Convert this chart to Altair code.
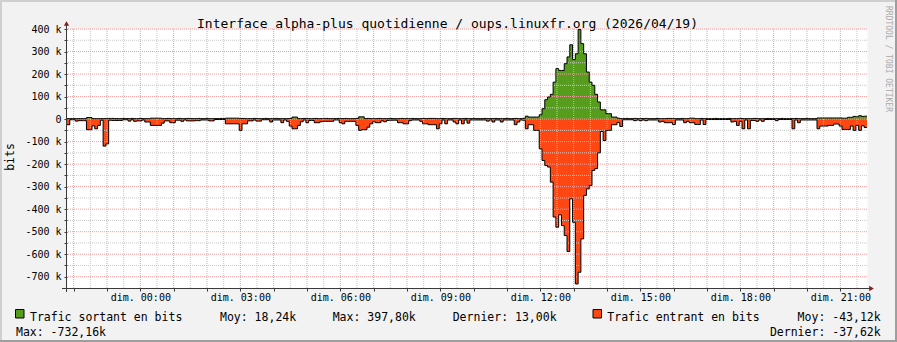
import altair as alt
import pandas as pd

# ------------------------------------------------------------------
# Data: 5-minute samples, kbit/s
# hours are relative to 00:00 on 2026/04/19 (graph starts 21:48 the day before)
# ------------------------------------------------------------------
START_H = -2.2
STEP_H = 5 / 60
END_H = 21.8

out_k = [
    2, 2, 2, 2, 2, 2, 2, 7, 7, 2, 2, 2,
    2, 2, 2, 3, 3, 2, 2, 2, 3, 2, 2, 3,
    2, 2, 3, 2, 2, 2, 4, 4, 4, 4, 2, 2,
    3, 2, 2, 2, 3, 2, 2, 3, 2, 2, 2, 3,
    2, 2, 3, 2, 2, 2, 2, 3, 2, 4, 4, 4,
    4, 4, 2, 3, 2, 2, 2, 3, 2, 2, 2, 3,
    2, 2, 2, 3, 2, 2, 2, 2, 3, 9, 9, 2,
    2, 3, 2, 2, 2, 3, 2, 2, 2, 3, 2, 2,
    2, 3, 2, 2, 3, 2, 2, 2, 3, 10, 10, 2,
    3, 2, 2, 2, 3, 2, 2, 2, 3, 2, 2, 2,
    3, 2, 2, 2, 3, 2, 2, 2, 3, 2, 3, 3,
    3, 2, 2, 3, 2, 2, 2, 3, 2, 2, 2, 3,
    2, 2, 3, 2, 2, 2, 3, 2, 2, 2, 3, 2,
    2, 2, 3, 2, 2, 3, 2, 2, 3, 13, 9, 9,
    9, 9, 19, 46, 86, 98, 110, 164, 224, 216, 216, 246,
    276, 330, 264, 290, 397.8, 335, 290, 209, 164, 150, 110, 76,
    41, 41, 24, 24, 9, 9, 4, 2, 2, 3, 2, 2,
    3, 2, 2, 2, 3, 2, 2, 2, 3, 2, 2, 2,
    3, 3, 2, 2, 2, 3, 2, 2, 4, 4, 2, 2,
    3, 2, 2, 2, 2, 3, 2, 2, 2, 2, 3, 2,
    2, 2, 3, 2, 2, 2, 2, 3, 2, 2, 2, 2,
    3, 2, 2, 2, 2, 3, 2, 2, 2, 2, 3, 2,
    2, 2, 3, 2, 2, 2, 5, 5, 5, 5, 5, 5,
    5, 5, 5, 4, 4, 8, 8, 12, 10, 15, 12, 13,
]

in_k = [
    -25, -3, -3, -9, -7, -7, -7, -47, -47, -30, -43, -28,
    -5, -120, -110, -5, -6, -6, -6, -6, -3, -3, -9, -3,
    -10, -8, -8, -4, -13, -13, -28, -28, -28, -28, -18, -8,
    -8, -16, -16, -5, -5, -10, -4, -8, -8, -8, -7, -7,
    -4, -4, -4, -8, -8, -2, -2, -2, -2, -21, -21, -21,
    -21, -21, -50, -21, -21, -8, -8, -4, -9, -9, -3, -3,
    -3, -13, -4, -4, -4, -16, -4, -10, -31, -43, -43, -28,
    -12, -4, -16, -6, -6, -16, -16, -12, -10, -10, -10, -10,
    -4, -4, -16, -21, -10, -10, -10, -10, -28, -50, -47, -47,
    -36, -21, -12, -16, -16, -8, -12, -6, -5, -5, -5, -16,
    -16, -21, -21, -7, -4, -4, -4, -10, -21, -21, -25, -25,
    -25, -43, -21, -4, -21, -4, -4, -13, -21, -4, -21, -4,
    -18, -4, -4, -4, -4, -4, -4, -9, -4, -13, -4, -4,
    -13, -4, -4, -4, -4, -25, -13, -4, -5, -43, -25, -25,
    -50, -50, -132, -184, -206, -213, -280, -435, -480, -425, -473, -517,
    -588, -354, -458, -732.16, -680, -532, -339, -310, -295, -228, -220, -150,
    -55, -95, -50, -50, -25, -25, -15, -33, -3, -3, -3, -3,
    -7, -4, -7, -4, -7, -4, -4, -4, -4, -13, -10, -16,
    -16, -16, -24, -4, -4, -4, -16, -10, -16, -16, -24, -24,
    -4, -24, -2, -2, -2, -2, -2, -2, -2, -2, -2, -13,
    -10, -28, -10, -43, -4, -43, -6, -6, -10, -4, -10, -2,
    -2, -2, -2, -7, -2, -2, -2, -2, -2, -43, -4, -16,
    -4, -4, -4, -4, -4, -4, -43, -31, -31, -31, -28, -28,
    -22, -22, -31, -46, -46, -46, -31, -50, -28, -50, -30, -37.62,
]

title_text = "Interface alpha-plus quotidienne / oups.linuxfr.org (2026/04/19)"
out_label = "Trafic sortant en bits"
in_label = "Trafic entrant en bits"
out_stats = ["Moy: 18,24k", "Max: 397,80k", "Dernier: 13,00k"]
in_stats = ["Moy: -43,12k", "Max: -732,16k", "Dernier: -37,62k"]
watermark = "RRDTOOL / TOBI OETIKER"
y_title = "bits"

# ------------------------------------------------------------------
n = len(out_k)
hours = [START_H + i * STEP_H for i in range(n)] + [END_H]
df = pd.DataFrame({
    "h": hours,
    "out": [v * 1000 for v in out_k] + [out_k[-1] * 1000],
    "inb": [v * 1000 for v in in_k] + [in_k[-1] * 1000],
})
df["base"] = 0.0

# layout / style
W, H = 800, 259
PAD = {"left": 67, "top": 29, "right": 30, "bottom": 54}
MONO = "DejaVu Sans Mono"
GREEN = "#569c1d"
RED = "#ff4714"
AXIS = "#3a3a3a"
ARROW = "#801f1f"
MINOR = "#c9c9c9"
MAJOR = "#ef9e9e"

xscale = alt.Scale(domain=[START_H, END_H], nice=False, zero=False)
yscale = alt.Scale(domain=[-750000, 400000], nice=False, zero=False)

x_axis = alt.Axis(
    values=list(range(-2, 22)),
    labelExpr="datum.value % 3 == 0 ? 'dim. ' + (datum.value < 10 ? '0' : '') + datum.value + ':00' : ''",
    grid=False, domain=False, tickSize=3, tickColor=AXIS,
    labelFont=MONO, labelFontSize=10, labelColor="#000000",
    labelPadding=1, labelOverlap=False, labelFlush=False, title=None,
)
y_axis = alt.Axis(
    values=list(range(-700000, 400001, 50000)),
    labelExpr="datum.value % 100000 != 0 ? '' : (datum.value == 0 ? '0\u00a0\u00a0' : (datum.value / 1000) + ' k')",
    grid=False, domain=False, tickSize=3, tickColor=AXIS,
    labelFont=MONO, labelFontSize=10, labelColor="#000000",
    labelPadding=3, labelOverlap=False, labelFlush=False, title=None,
)

X = alt.X("h:Q", scale=xscale, axis=x_axis)

base = alt.Chart(df)
green_area = base.mark_area(interpolate="step-after", color=GREEN, opacity=1).encode(
    x=X, y=alt.Y("out:Q", scale=yscale, axis=y_axis), y2="base:Q")
red_area = base.mark_area(interpolate="step-after", color=RED, opacity=1).encode(
    x=X, y=alt.Y("inb:Q", scale=yscale, axis=y_axis), y2="base:Q")
green_line = base.mark_line(interpolate="step-after", color="#000000", strokeWidth=1).encode(
    x=X, y=alt.Y("out:Q", scale=yscale, axis=y_axis))
red_line = base.mark_line(interpolate="step-after", color="#000000", strokeWidth=1).encode(
    x=X, y=alt.Y("inb:Q", scale=yscale, axis=y_axis))

# grid
vminor = pd.DataFrame({"h": [h + 0.5 for h in range(-2, 22)]})
vmajor = pd.DataFrame({"h": list(range(-2, 22))})
hminor = pd.DataFrame({"v": list(range(-650000, 400000, 100000))})
hmajor = pd.DataFrame({"v": list(range(-700000, 400001, 100000))})

def vgrid(d, col):
    return alt.Chart(d).mark_rule(color=col, strokeDash=[1, 1], strokeWidth=1).encode(x=X)

def hgrid(d, col):
    return alt.Chart(d).mark_rule(color=col, strokeDash=[1, 1], strokeWidth=1).encode(
        y=alt.Y("v:Q", scale=yscale, axis=y_axis))

one = pd.DataFrame({"k": [0]})

def txt(s, x, y, **kw):
    return alt.Chart(one).mark_text(text=s, font=MONO, **kw).encode(
        x=alt.value(x), y=alt.value(y))

def box(x1, x2, y1, y2, fill, **kw):
    return alt.Chart(one).mark_rect(fill=fill, **kw).encode(
        x=alt.value(x1), x2=alt.value(x2), y=alt.value(y1), y2=alt.value(y2))

# axis lines and arrows
x_axis_line = alt.Chart(one).mark_rule(color=AXIS, strokeWidth=1).encode(
    x=alt.value(-5), x2=alt.value(803), y=alt.value(H + 0.5))
y_axis_line = alt.Chart(one).mark_rule(color=AXIS, strokeWidth=1).encode(
    x=alt.value(-0.5), y=alt.value(-6), y2=alt.value(H + 4))
arrow_up = alt.Chart(one).mark_point(shape="triangle-up", filled=True, color=ARROW,
                                     size=28, opacity=1).encode(
    x=alt.value(-0.5), y=alt.value(-5.5))
arrow_right = alt.Chart(one).mark_point(shape="triangle-right", filled=True, color=ARROW,
                                        size=28, opacity=1).encode(
    x=alt.value(804.5), y=alt.value(H + 0.5))

# frame (3D border)
frame = [
    box(-67, 830, -29, -27, "#cfcfcf"),
    box(-67, -65, -29, 313, "#cfcfcf"),
    box(-67, 830, 311, 313, "#9e9e9e"),
    box(828, 830, -29, 313, "#9e9e9e"),
]

# texts
L1, L2 = 288.5, 303.7
texts = [
    txt(title_text, 380.5, -5, fontSize=13, align="center", color="#000000"),
    txt(y_title, -56.5, 128, fontSize=11.5, angle=270, align="center", baseline="middle", color="#000000"),
    txt(watermark, 821, 30, fontSize=8, angle=90, align="center", baseline="middle", color="#aaaaaa"),
    txt(out_label, -37, L1, fontSize=11.5, align="left", color="#000000"),
    txt(out_stats[0], 153, L1, fontSize=11.5, align="left", color="#000000"),
    txt(out_stats[1], 265.7, L1, fontSize=11.5, align="left", color="#000000"),
    txt(out_stats[2], 385.7, L1, fontSize=11.5, align="left", color="#000000"),
    txt(in_label, 540.3, L1, fontSize=11.5, align="left", color="#000000"),
    txt(in_stats[0], 813.7, L1, fontSize=11.5, align="right", color="#000000"),
    txt(in_stats[1], -51, L2, fontSize=11.5, align="left", color="#000000"),
    txt(in_stats[2], 813.7, L2, fontSize=11.5, align="right", color="#000000"),
]
squares = [
    box(-51.5, -43, 280.5, 289, GREEN, stroke="#000000", strokeWidth=1),
    box(526, 534.5, 280.5, 289, RED, stroke="#000000", strokeWidth=1),
]

chart = alt.layer(
    green_area, red_area,
    vgrid(vminor, MINOR), hgrid(hminor, MINOR),
    vgrid(vmajor, MAJOR), hgrid(hmajor, MAJOR),
    green_line, red_line,
    x_axis_line, y_axis_line, arrow_up, arrow_right,
    *frame, *squares, *texts,
).properties(
    width=W, height=H,
    padding=PAD,
    autosize=alt.AutoSizeParams(type="none"),
    background="#f2f2f2",
).configure_view(
    fill="#ffffff", stroke="transparent",
)

chart.save("out.html", embed_options={"renderer": "svg", "actions": False})
